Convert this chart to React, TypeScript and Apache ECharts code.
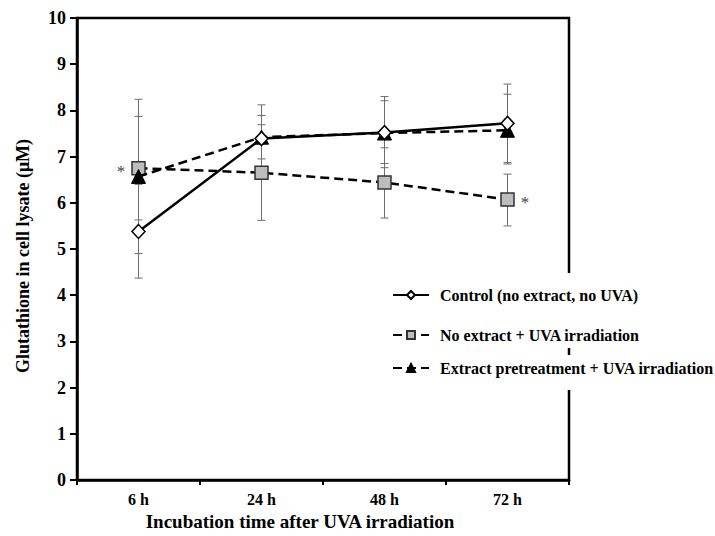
import React, { useEffect, useRef } from "react";
import * as echarts from "echarts";

const categories = ["6 h", "24 h", "48 h", "72 h"];

const controlName = "Control (no extract, no UVA)";
const controlMean = [5.38, 7.39, 7.52, 7.72];
const controlLow = [4.37, 6.66, 6.76, 6.87];
const controlHigh = [6.4, 8.12, 8.3, 8.57];

const uvaName = "No extract + UVA irradiation";
const uvaMean = [6.75, 6.65, 6.44, 6.07];
const uvaLow = [5.63, 5.62, 5.67, 5.5];
const uvaHigh = [7.87, 7.69, 7.19, 6.62];
const uvaStar = ["*", "", "", "*"];
const uvaStarSide = ["left", "", "", "right"];

const extractName = "Extract pretreatment + UVA irradiation";
const extractMean = [6.57, 7.42, 7.51, 7.57];
const extractLow = [4.9, 6.95, 6.85, 6.84];
const extractHigh = [8.24, 7.89, 8.21, 8.35];

const yTicks = { min: 0, max: 10, interval: 1 };

const FONT = "'Liberation Serif', 'Times New Roman', serif";

function errorSeries(low: number[], high: number[]) {
  return {
    type: "custom",
    z: 1,
    silent: true,
    data: low.map((l, i) => [i, l, high[i]]),
    renderItem: (params: any, api: any) => {
      const x = api.value(0);
      const lo = api.coord([x, api.value(1)]);
      const hi = api.coord([x, api.value(2)]);
      const w = 4;
      const style = { stroke: "#6e6e6e", lineWidth: 1 };
      return {
        type: "group",
        children: [
          { type: "line", shape: { x1: lo[0], y1: lo[1], x2: hi[0], y2: hi[1] }, style },
          { type: "line", shape: { x1: lo[0] - w, y1: lo[1], x2: lo[0] + w, y2: lo[1] }, style },
          { type: "line", shape: { x1: hi[0] - w, y1: hi[1], x2: hi[0] + w, y2: hi[1] }, style },
        ],
      };
    },
  };
}

export default function App() {
  const ref = useRef<HTMLDivElement>(null);
  useEffect(() => {
    document.body.style.margin = "0";
    const chart = echarts.init(ref.current!, null, { renderer: "svg" });
    const legendText = {
      fontFamily: FONT,
      fontWeight: "bold",
      fontSize: 16,
      color: "#000",
      padding: [0, 0, 0, 6],
    };
    chart.setOption({
      animation: false,
      backgroundColor: "#fff",
      grid: {
        left: 77,
        right: 146,
        top: 18,
        bottom: 52,
        show: true,
        borderColor: "#000",
        borderWidth: 2.5,
        backgroundColor: "transparent",
      },
      legend: [
        {
          data: [controlName, uvaName],
          orient: "vertical",
          left: 382,
          top: 273,
          padding: [14, 3, 5, 10],
          itemGap: 24,
          itemWidth: 36,
          itemHeight: 10,
          backgroundColor: "#fff",
          textStyle: legendText,
        },
        {
          data: [extractName],
          orient: "vertical",
          left: 382,
          top: 355,
          padding: [5, 3, 14, 10],
          itemWidth: 36,
          itemHeight: 10,
          backgroundColor: "#fff",
          textStyle: legendText,
        },
      ],
      xAxis: {
        type: "category",
        data: categories,
        boundaryGap: true,
        axisLine: { lineStyle: { color: "#000", width: 2.5 } },
        axisTick: { show: true, length: 5, inside: false, lineStyle: { color: "#000", width: 2 } },
        axisLabel: {
          fontFamily: FONT,
          fontWeight: "bold",
          fontSize: 16,
          color: "#000",
          margin: 11,
        },
        name: "Incubation time after UVA irradiation",
        nameLocation: "middle",
        nameGap: 32,
        nameTextStyle: {
          fontFamily: FONT,
          fontWeight: "bold",
          fontSize: 19,
          color: "#000",
          padding: [0, 46, 0, 0],
        },
        splitLine: { show: false },
      },
      yAxis: {
        type: "value",
        min: yTicks.min,
        max: yTicks.max,
        interval: yTicks.interval,
        axisLine: { show: true, lineStyle: { color: "#000", width: 2.5 } },
        axisTick: { show: true, length: 7, inside: false, lineStyle: { color: "#000", width: 2 } },
        axisLabel: {
          fontFamily: FONT,
          fontWeight: "bold",
          fontSize: 18,
          color: "#000",
          margin: 11,
        },
        splitLine: { show: false },
        name: "Glutathione in cell lysate (μM)",
        nameLocation: "middle",
        nameGap: 45,
        nameTextStyle: {
          fontFamily: FONT,
          fontWeight: "bold",
          fontSize: 18,
          color: "#000",
          padding: [0, 14, 0, 0],
        },
      },
      series: [
        errorSeries(controlLow, controlHigh),
        errorSeries(uvaLow, uvaHigh),
        errorSeries(extractLow, extractHigh),
        {
          name: uvaName,
          type: "line",
          z: 3,
          data: uvaMean.map((v, i) => ({
            value: v,
            label: {
              show: uvaStar[i] !== "",
              formatter: uvaStar[i],
              position: uvaStarSide[i] || "right",
              distance: 6,
              offset: [0, 3],
              fontFamily: FONT,
              fontSize: 17,
              color: "#444",
            },
          })),
          symbol: "rect",
          symbolSize: 13,
          lineStyle: { color: "#000", width: 2.5, type: [9, 5] },
          itemStyle: { color: "#bdbdbd", borderColor: "#333", borderWidth: 1.5 },
        },
        {
          name: extractName,
          type: "line",
          z: 4,
          data: extractMean,
          symbol: "triangle",
          symbolSize: 14,
          lineStyle: { color: "#000", width: 2.5, type: [9, 5] },
          itemStyle: { color: "#000", borderColor: "#000", borderWidth: 1 },
        },
        {
          name: controlName,
          type: "line",
          z: 5,
          data: controlMean,
          symbol: "diamond",
          symbolSize: [13, 14],
          lineStyle: { color: "#000", width: 2.5, type: "solid" },
          itemStyle: { color: "#fff", borderColor: "#000", borderWidth: 1.5 },
        },
      ],
    });
    return () => chart.dispose();
  }, []);
  return (
    <div
      ref={ref}
      style={{ position: "fixed", left: 0, top: 0, width: 715, height: 536, background: "#fff" }}
    />
  );
}
